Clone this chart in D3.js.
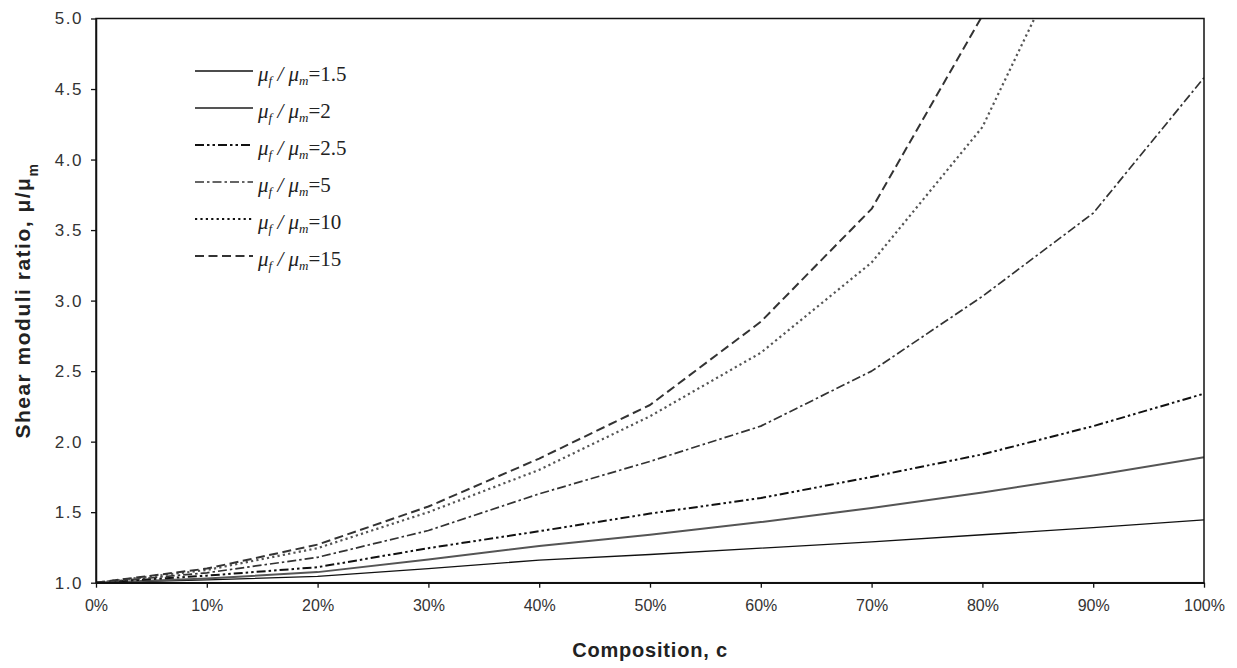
<!DOCTYPE html>
<html>
<head>
<meta charset="utf-8">
<script src="https://cdn.jsdelivr.net/npm/d3@7"></script>
<style>
  body { margin: 0; background: #fff; }
  svg { display: block; }
</style>
</head>
<body>
<svg id="chart" width="1237" height="668"></svg>
<script>
// Composition c (fraction of fibre phase)
const composition = [0, 0.1, 0.2, 0.3, 0.4, 0.5, 0.6, 0.7, 0.8, 0.9, 1.0];

// Effective shear modulus ratio mu/mu_m for each mu_f/mu_m
const ratio1p5 = [1.00, 1.02, 1.045, 1.10, 1.16, 1.20, 1.245, 1.29, 1.34, 1.39, 1.445];
const ratio2   = [1.00, 1.03, 1.075, 1.165, 1.26, 1.34, 1.43, 1.53, 1.64, 1.76, 1.89];
const ratio2p5 = [1.00, 1.05, 1.11, 1.245, 1.365, 1.49, 1.60, 1.75, 1.91, 2.11, 2.34];
const ratio5   = [1.00, 1.07, 1.18, 1.37, 1.63, 1.86, 2.11, 2.50, 3.03, 3.62, 4.58];
const ratio10  = [1.00, 1.09, 1.245, 1.50, 1.80, 2.18, 2.63, 3.27, 4.23, 5.87, 8.50];
const ratio15  = [1.00, 1.10, 1.27, 1.54, 1.88, 2.26, 2.85, 3.65, 5.02, 7.20, 10.50];

const seriesLabels = ["1.5", "2", "2.5", "5", "10", "15"];
const seriesValues = [ratio1p5, ratio2, ratio2p5, ratio5, ratio10, ratio15];

const yTicks = [1.0, 1.5, 2.0, 2.5, 3.0, 3.5, 4.0, 4.5, 5.0];
const xTicks = composition;

const xTitle = "Composition, c";

// Stroke style per series (same order as seriesLabels)
const styles = [
  { color: "#111", width: 1.3, dash: null },
  { color: "#555", width: 2.0, dash: null },
  { color: "#111", width: 2.0, dash: "9,3,2.5,3,2.5,3" },
  { color: "#333", width: 1.7, dash: "9,3,2.5,3" },
  { color: "#555", width: 2.2, dash: "2.2,3.2" },
  { color: "#333", width: 2.0, dash: "9,4.5" }
];

const svg = d3.select("#chart");
const margin = { left: 96, right: 33, top: 18.5, bottom: 85.3 };
const W = 1237, H = 668;
const innerW = W - margin.left - margin.right;
const innerH = H - margin.top - margin.bottom;

const x = d3.scaleLinear().domain([0, 1]).range([margin.left, margin.left + innerW]);
const y = d3.scaleLinear().domain([1, 5]).range([margin.top + innerH, margin.top]);

svg.append("defs").append("clipPath").attr("id", "plotClip")
  .append("rect")
  .attr("x", margin.left).attr("y", margin.top)
  .attr("width", innerW).attr("height", innerH);

// Series
const line = d3.line().x((d, i) => x(composition[i])).y(d => y(d));
const lines = svg.append("g").attr("clip-path", "url(#plotClip)");
seriesValues.forEach((vals, k) => {
  const s = styles[k];
  lines.append("path")
    .datum(vals)
    .attr("d", line)
    .attr("fill", "none")
    .attr("stroke", s.color)
    .attr("stroke-width", s.width)
    .attr("stroke-dasharray", s.dash)
    .attr("stroke-linejoin", "round");
});

// Plot frame
svg.append("rect")
  .attr("x", margin.left).attr("y", margin.top)
  .attr("width", innerW).attr("height", innerH)
  .attr("fill", "none").attr("stroke", "#111").attr("stroke-width", 1.5);

// Axes
const yAxis = d3.axisLeft(y).tickValues(yTicks).tickFormat(d3.format(".1f"))
  .tickSize(5).tickSizeOuter(0).tickPadding(8);
const gy = svg.append("g").attr("transform", `translate(${margin.left},0)`).call(yAxis);

const xAxis = d3.axisBottom(x).tickValues(xTicks).tickFormat(d3.format(".0%"))
  .tickSize(5).tickSizeOuter(0).tickPadding(12);
const gx = svg.append("g").attr("transform", `translate(0,${margin.top + innerH})`).call(xAxis);

[gx, gy].forEach(g => {
  g.select(".domain").attr("stroke", "#111").attr("stroke-width", 1.5);
  g.selectAll(".tick line").attr("stroke", "#111").attr("stroke-width", 1.3);
  g.selectAll(".tick text")
    .attr("fill", "#333")
    .style("font-family", "'Liberation Sans', Arial, sans-serif")
    .style("font-size", "16px");
});
gy.selectAll(".tick text").style("font-size", "17px").style("letter-spacing", "1.5px");

// Axis titles
svg.append("text")
  .attr("x", margin.left + innerW / 2).attr("y", 657)
  .attr("text-anchor", "middle")
  .style("font-family", "'Liberation Sans', Arial, sans-serif")
  .style("font-size", "20px").style("font-weight", "bold")
  .style("letter-spacing", "0.8px")
  .attr("fill", "#222")
  .text(xTitle);

const yt = svg.append("text")
  .attr("transform", `translate(30,${margin.top + innerH / 2}) rotate(-90)`)
  .attr("text-anchor", "middle")
  .style("font-family", "'Liberation Sans', Arial, sans-serif")
  .style("font-size", "21px").style("font-weight", "bold")
  .style("letter-spacing", "1.5px")
  .attr("fill", "#222");
yt.append("tspan").text("Shear moduli ratio, \u03bc/\u03bc");
yt.append("tspan").attr("baseline-shift", "sub").style("font-size", "14px").text("m");

// Legend
const legend = svg.append("g");
seriesLabels.forEach((lab, k) => {
  const cy = 74 + k * 37;
  const s = styles[k];
  legend.append("line")
    .attr("x1", 195).attr("x2", 253)
    .attr("y1", cy - 3).attr("y2", cy - 3)
    .attr("stroke", s.color === "#555" && s.dash ? "#111" : s.color)
    .attr("stroke-width", s.width)
    .attr("stroke-dasharray", s.dash);
  const t = legend.append("text")
    .attr("x", 258).attr("y", cy + 7)
    .style("font-family", "'Liberation Serif', 'Times New Roman', serif")
    .style("font-size", "21px")
    .attr("fill", "#222");
  t.append("tspan").style("font-style", "italic").text("\u03bc");
  t.append("tspan").style("font-style", "italic").style("font-size", "13px")
    .attr("dy", 4).text("f");
  t.append("tspan").attr("dy", -4).style("font-style", "italic").text(" / ");
  t.append("tspan").style("font-style", "italic").text("\u03bc");
  t.append("tspan").style("font-style", "italic").style("font-size", "13px")
    .attr("dy", 4).text("m");
  t.append("tspan").attr("dy", -4).text("=" + lab);
});
</script>
</body>
</html>
